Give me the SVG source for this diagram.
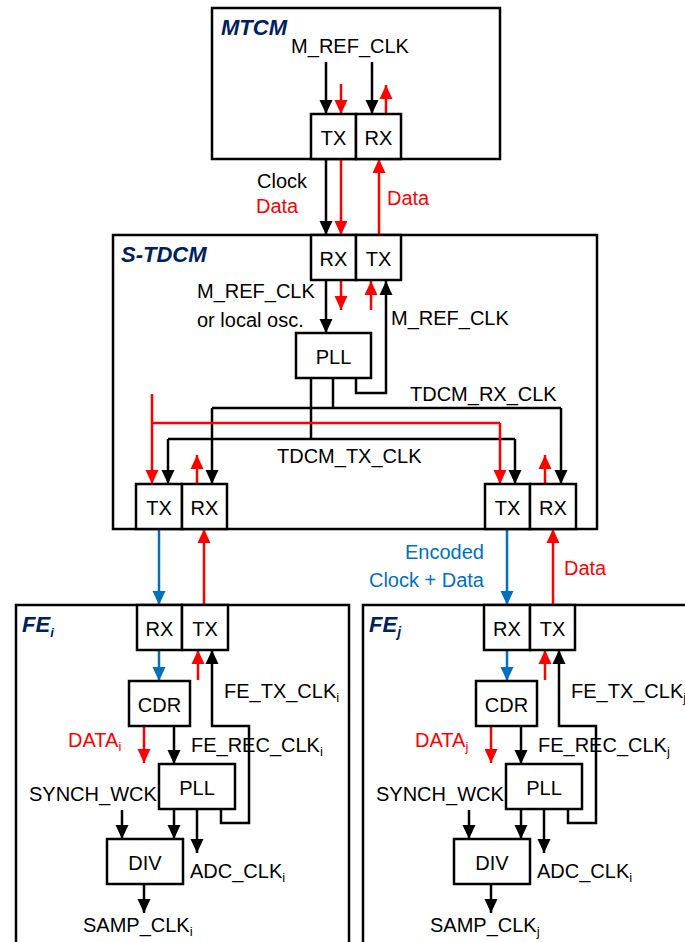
<svg xmlns="http://www.w3.org/2000/svg" width="685" height="942" viewBox="0 0 685 942">
<style>
text{font-family:"Liberation Sans",Arial,sans-serif;font-size:20px;fill:#000}
.box{fill:#fff;stroke:#000;stroke-width:2.5}
.cont{fill:#fff;stroke:#000;stroke-width:2.5}
.title{font-weight:bold;font-style:italic;font-size:22px;fill:#002060}
.c{text-anchor:middle}
.k{fill:none;stroke:#000;stroke-width:2.5;marker-end:url(#ak)}
.kn{fill:none;stroke:#000;stroke-width:2.5}
.r{fill:none;stroke:#ff0000;stroke-width:2.5;marker-end:url(#ar)}
.rn{fill:none;stroke:#ff0000;stroke-width:2.5}
.b{fill:none;stroke:#0070c0;stroke-width:2.5;marker-end:url(#ab)}
.red{fill:#ff0000}
.blue{fill:#0070c0}
.sub{font-size:13px}
</style>
<defs>
<marker id="ak" markerUnits="userSpaceOnUse" markerWidth="14" markerHeight="14" viewBox="0 0 14 14" refX="14" refY="7" orient="auto"><path d="M0,0.5 L14,7 L0,13.5 z" fill="#000"/></marker>
<marker id="ar" markerUnits="userSpaceOnUse" markerWidth="14" markerHeight="14" viewBox="0 0 14 14" refX="14" refY="7" orient="auto"><path d="M0,0.5 L14,7 L0,13.5 z" fill="#ff0000"/></marker>
<marker id="ab" markerUnits="userSpaceOnUse" markerWidth="14" markerHeight="14" viewBox="0 0 14 14" refX="14" refY="7" orient="auto"><path d="M0,0.5 L14,7 L0,13.5 z" fill="#0070c0"/></marker>
</defs>

<!-- containers -->
<g id="mtcm"><rect class="cont" x="212" y="8" width="288" height="151"/><text class="title" x="221" y="35">MTCM</text></g>
<g id="stdcm"><rect class="cont" x="113" y="235" width="484" height="294"/><text class="title" x="121" y="262">S-TDCM</text></g>
<g id="fe-i"><rect class="cont" x="16" y="605" width="333" height="350"/><text class="title" x="22" y="632">FE<tspan class="sub" font-size="14px" dy="5">i</tspan></text></g>
<g id="fe-j"><rect class="cont" x="363" y="605" width="340" height="350"/><text class="title" x="369" y="632">FE<tspan font-size="14px" dy="5">j</tspan></text></g>

<!-- connectors -->
<g id="connectors">
<!-- MTCM -->
<path class="k" d="M326,62 V114"/>
<path class="r" d="M341,84 V114"/>
<path class="k" d="M372,62 V114"/>
<path class="r" d="M386,114 V85"/>
<!-- MTCM to S-TDCM -->
<path class="k" d="M326,159 V235"/>
<path class="r" d="M341,159 V235"/>
<path class="r" d="M379,235 V159"/>
<!-- S-TDCM internal -->
<path class="k" d="M326,280 V333"/>
<path class="r" d="M341,281 V310"/>
<path class="r" d="M371,310 V281"/>
<path class="k" d="M356,378 V393 H386 V281"/>
<path class="kn" d="M333,378 V408"/>
<path class="k" d="M212,408 V484"/>
<path class="kn" d="M212,408 H561"/>
<path class="k" d="M561,408 V484"/>
<path class="kn" d="M311,378 V439"/>
<path class="k" d="M168,439 V484"/>
<path class="kn" d="M168,439 H515"/>
<path class="k" d="M515,439 V484"/>
<path class="r" d="M152,394 V484"/>
<path class="rn" d="M152,423 H500"/>
<path class="r" d="M500,423 V484"/>
<path class="r" d="M197,484 V455"/>
<path class="r" d="M545,484 V455"/>
<!-- S-TDCM to FE -->
<path class="b" d="M159,529 V605"/>
<path class="r" d="M204,605 V529"/>
<path class="b" d="M507,529 V605"/>
<path class="r" d="M553,605 V529"/>
<!-- FE_i -->
<g id="fe-i-conn">
<path class="b" d="M159,650 V681"/>
<path class="r" d="M198,680 V650"/>
<path class="k" d="M221,809 V823 H249 V726 H212 V650"/>
<path class="r" d="M144,726 V763"/>
<path class="k" d="M174,726 V764"/>
<path class="k" d="M122,810 V839"/>
<path class="k" d="M174,809 V839"/>
<path class="k" d="M197,809 V853"/>
<path class="k" d="M144,884 V913"/>
</g>
<!-- FE_j -->
<g transform="translate(347,0)">
<path class="b" d="M160,650 V681"/>
<path class="r" d="M198,680 V650"/>
<path class="k" d="M221,809 V823 H249 V726 H212 V650"/>
<path class="r" d="M144,726 V763"/>
<path class="k" d="M174,726 V764"/>
<path class="k" d="M122,810 V839"/>
<path class="k" d="M174,809 V839"/>
<path class="k" d="M197,809 V853"/>
<path class="k" d="M144,884 V913"/>
</g>
</g>

<!-- MTCM nodes -->
<g id="mtcm-tx"><rect class="box" x="311" y="114" width="45" height="45"/><text class="c" x="333.5" y="145">TX</text></g>
<g id="mtcm-rx"><rect class="box" x="356" y="114" width="45" height="45"/><text class="c" x="378.5" y="145">RX</text></g>
<text class="c" x="350" y="53">M_REF_CLK</text>

<!-- S-TDCM nodes -->
<g id="stdcm-rx"><rect class="box" x="311" y="235" width="45" height="45"/><text class="c" x="333.5" y="266">RX</text></g>
<g id="stdcm-tx"><rect class="box" x="356" y="235" width="45" height="45"/><text class="c" x="378.5" y="266">TX</text></g>
<g id="stdcm-pll"><rect class="box" x="296" y="333" width="75" height="45"/><text class="c" x="333.5" y="364">PLL</text></g>
<g id="stdcm-tx-i"><rect class="box" x="136" y="484" width="46" height="45"/><text class="c" x="159" y="515">TX</text></g>
<g id="stdcm-rx-i"><rect class="box" x="182" y="484" width="45" height="45"/><text class="c" x="204.5" y="515">RX</text></g>
<g id="stdcm-tx-j"><rect class="box" x="485" y="484" width="45" height="45"/><text class="c" x="507.5" y="515">TX</text></g>
<g id="stdcm-rx-j"><rect class="box" x="530" y="484" width="46" height="45"/><text class="c" x="553" y="515">RX</text></g>

<!-- labels top -->
<text x="257" y="188">Clock</text>
<text class="red" x="256" y="213">Data</text>
<text class="red" x="387" y="205">Data</text>
<text x="197" y="298">M_REF_CLK</text>
<text x="197" y="327">or local osc.</text>
<text x="391" y="325">M_REF_CLK</text>
<text x="410" y="401">TDCM_RX_CLK</text>
<text x="277" y="463">TDCM_TX_CLK</text>
<text class="blue" x="484" y="559" text-anchor="end">Encoded</text>
<text class="blue" x="484" y="587" text-anchor="end">Clock + Data</text>
<text class="red" x="564" y="575">Data</text>

<!-- FE_i nodes -->
<g id="fe-i-rx"><rect class="box" x="137" y="605" width="45" height="45"/><text class="c" x="159.5" y="636">RX</text></g>
<g id="fe-i-tx"><rect class="box" x="182" y="605" width="46" height="45"/><text class="c" x="205" y="636">TX</text></g>
<g id="fe-i-cdr"><rect class="box" x="129" y="681" width="61" height="45"/><text class="c" x="159.5" y="712">CDR</text></g>
<g id="fe-i-pll"><rect class="box" x="159" y="764" width="76" height="45"/><text class="c" x="197" y="795">PLL</text></g>
<g id="fe-i-div"><rect class="box" x="107" y="839" width="76" height="45"/><text class="c" x="145" y="870">DIV</text></g>
<text x="224" y="698">FE_TX_CLK<tspan class="sub" dy="4">i</tspan></text>
<text class="red" x="68" y="747">DATA<tspan class="sub" dy="4">i</tspan></text>
<text x="191" y="752">FE_REC_CLK<tspan class="sub" dy="4">i</tspan></text>
<text x="29" y="801">SYNCH_WCK</text>
<text x="190" y="878">ADC_CLK<tspan class="sub" dy="4">i</tspan></text>
<text x="83" y="932">SAMP_CLK<tspan class="sub" dy="4">i</tspan></text>

<!-- FE_j nodes -->
<g transform="translate(347,0)">
<g id="fe-j-rx"><rect class="box" x="137" y="605" width="46" height="45"/><text class="c" x="160" y="636">RX</text></g>
<g id="fe-j-tx"><rect class="box" x="183" y="605" width="45" height="45"/><text class="c" x="205.5" y="636">TX</text></g>
<g id="fe-j-cdr"><rect class="box" x="129" y="681" width="61" height="45"/><text class="c" x="159.5" y="712">CDR</text></g>
<g id="fe-j-pll"><rect class="box" x="159" y="764" width="76" height="45"/><text class="c" x="197" y="795">PLL</text></g>
<g id="fe-j-div"><rect class="box" x="107" y="839" width="76" height="45"/><text class="c" x="145" y="870">DIV</text></g>
<text x="224" y="698">FE_TX_CLK<tspan class="sub" dy="4">j</tspan></text>
<text class="red" x="68" y="747">DATA<tspan class="sub" dy="4">j</tspan></text>
<text x="191" y="752">FE_REC_CLK<tspan class="sub" dy="4">j</tspan></text>
<text x="29" y="801">SYNCH_WCK</text>
<text x="190" y="878">ADC_CLK<tspan class="sub" dy="4">i</tspan></text>
<text x="83" y="932">SAMP_CLK<tspan class="sub" dy="4">j</tspan></text>
</g>
</svg>
